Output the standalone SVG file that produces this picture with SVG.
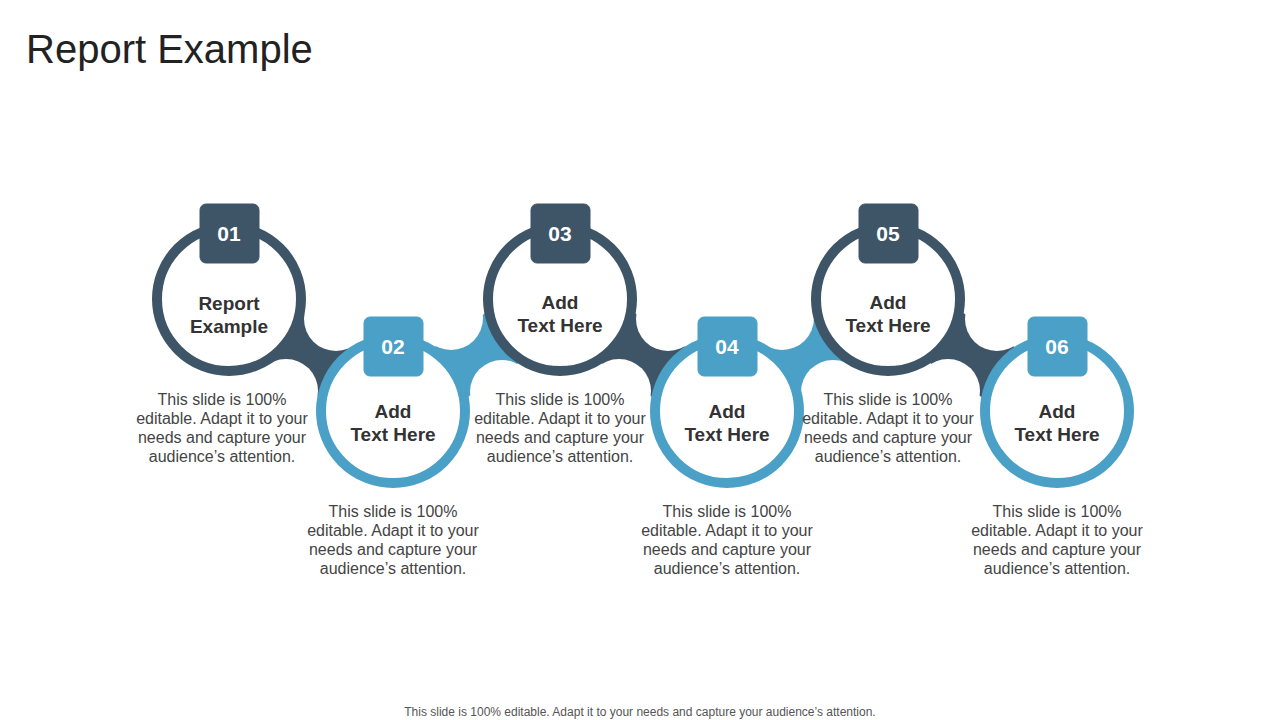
<svg xmlns="http://www.w3.org/2000/svg" width="1280" height="720" viewBox="0 0 1280 720">
<style>
.d{fill:#3E5568;stroke:#3E5568}.b{fill:#4AA0C6;stroke:#4AA0C6}
.ring{fill:#fff;stroke-width:10}
.t{font-family:"Liberation Sans",Arial,sans-serif}
.lbl{font-size:19px;font-weight:bold;fill:#333;text-anchor:middle}
.num{font-size:21px;font-weight:bold;fill:#fff;text-anchor:middle}
.desc{font-size:16px;fill:#444;text-anchor:middle}
</style>
<rect width="1280" height="720" fill="#fff"/>
<text class="t" x="26" y="63" font-size="40" fill="#222">Report Example</text>
<g id="connectors">
<line x1="229" y1="299" x2="393" y2="411" stroke="#3E5568" stroke-width="60"/>
<line x1="393" y1="411" x2="560" y2="299" stroke="#4AA0C6" stroke-width="60"/>
<line x1="560" y1="299" x2="727" y2="411" stroke="#3E5568" stroke-width="60"/>
<line x1="727" y1="411" x2="888" y2="299" stroke="#4AA0C6" stroke-width="60"/>
<line x1="888" y1="299" x2="1057" y2="411" stroke="#3E5568" stroke-width="60"/>
<g fill="#fff">
<circle cx="286" cy="391" r="32"/><circle cx="336" cy="319" r="32"/>
<circle cx="451" cy="318" r="32"/><circle cx="502" cy="392" r="32"/>
<circle cx="619" cy="391" r="32"/><circle cx="668" cy="319" r="32"/>
<circle cx="782" cy="318" r="32"/><circle cx="833" cy="392" r="32"/>
<circle cx="948" cy="391" r="32"/><circle cx="997" cy="319" r="32"/>
</g>
</g>
<g id="n1"><circle class="ring d" cx="229" cy="299" r="72" style="fill:#fff"/><rect class="d" x="200" y="204" width="59" height="59" rx="6"/><text class="t num" x="229" y="241">01</text><text class="t lbl" x="229" y="310">Report</text><text class="t lbl" x="229" y="333">Example</text></g>
<g id="n2"><circle class="ring b" cx="393" cy="411" r="72" style="fill:#fff"/><rect class="b" x="364" y="317" width="59" height="59" rx="6"/><text class="t num" x="393" y="354">02</text><text class="t lbl" x="393" y="418">Add</text><text class="t lbl" x="393" y="441">Text Here</text></g>
<g id="n3"><circle class="ring d" cx="560" cy="299" r="72" style="fill:#fff"/><rect class="d" x="531" y="204" width="59" height="59" rx="6"/><text class="t num" x="560" y="241">03</text><text class="t lbl" x="560" y="309">Add</text><text class="t lbl" x="560" y="332">Text Here</text></g>
<g id="n4"><circle class="ring b" cx="727" cy="411" r="72" style="fill:#fff"/><rect class="b" x="698" y="317" width="59" height="59" rx="6"/><text class="t num" x="727" y="354">04</text><text class="t lbl" x="727" y="418">Add</text><text class="t lbl" x="727" y="441">Text Here</text></g>
<g id="n5"><circle class="ring d" cx="888" cy="299" r="72" style="fill:#fff"/><rect class="d" x="859" y="204" width="59" height="59" rx="6"/><text class="t num" x="888" y="241">05</text><text class="t lbl" x="888" y="309">Add</text><text class="t lbl" x="888" y="332">Text Here</text></g>
<g id="n6"><circle class="ring b" cx="1057" cy="411" r="72" style="fill:#fff"/><rect class="b" x="1028" y="317" width="59" height="59" rx="6"/><text class="t num" x="1057" y="354">06</text><text class="t lbl" x="1057" y="418">Add</text><text class="t lbl" x="1057" y="441">Text Here</text></g>
<g class="t desc">
<text x="222" y="405">This slide is 100%</text><text x="222" y="424">editable. Adapt it to your</text><text x="222" y="443">needs and capture your</text><text x="222" y="462">audience’s attention.</text>
<text x="560" y="405">This slide is 100%</text><text x="560" y="424">editable. Adapt it to your</text><text x="560" y="443">needs and capture your</text><text x="560" y="462">audience’s attention.</text>
<text x="888" y="405">This slide is 100%</text><text x="888" y="424">editable. Adapt it to your</text><text x="888" y="443">needs and capture your</text><text x="888" y="462">audience’s attention.</text>
<text x="393" y="517">This slide is 100%</text><text x="393" y="536">editable. Adapt it to your</text><text x="393" y="555">needs and capture your</text><text x="393" y="574">audience’s attention.</text>
<text x="727" y="517">This slide is 100%</text><text x="727" y="536">editable. Adapt it to your</text><text x="727" y="555">needs and capture your</text><text x="727" y="574">audience’s attention.</text>
<text x="1057" y="517">This slide is 100%</text><text x="1057" y="536">editable. Adapt it to your</text><text x="1057" y="555">needs and capture your</text><text x="1057" y="574">audience’s attention.</text>
</g>
<text class="t" x="640" y="716" font-size="12" fill="#555" text-anchor="middle">This slide is 100% editable. Adapt it to your needs and capture your audience’s attention.</text>
</svg>
